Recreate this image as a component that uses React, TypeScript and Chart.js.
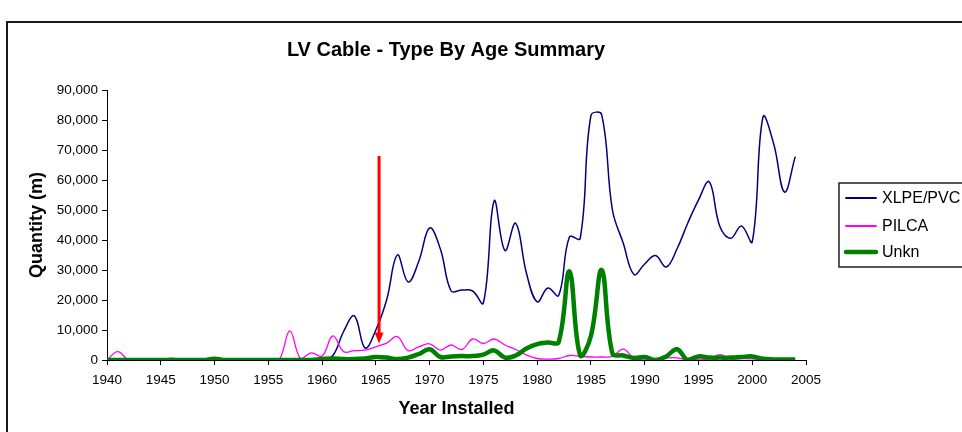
import React, { useEffect, useRef } from "react";
import { Chart, registerables } from "chart.js";

Chart.register(...registerables);

const years = [
  1940, 1941, 1942, 1943, 1944, 1945, 1946, 1947, 1948, 1949,
  1950, 1951, 1952, 1953, 1954, 1955, 1956, 1957, 1958, 1959,
  1960, 1961, 1962, 1963, 1964, 1965, 1966, 1967, 1968, 1969,
  1970, 1971, 1972, 1973, 1974, 1975, 1976, 1977, 1978, 1979,
  1980, 1981, 1982, 1983, 1984, 1985, 1986, 1987, 1988, 1989,
  1990, 1991, 1992, 1993, 1994, 1995, 1996, 1997, 1998, 1999,
  2000, 2001, 2002, 2003, 2004,
];

const xlpePvc = [
  0, 0, 0, 0, 0, 0, 0, 0, 0, 0,
  0, 0, 0, 0, 0, 0, 0, 0, 0, 0,
  0, 1500, 9500, 14700, 4000, 10000, 20000, 35000, 26000, 33000,
  44000, 37000, 23000, 23300, 23000, 19000, 53000, 36500, 45600, 29000,
  19400, 24000, 21500, 41000, 40500, 81500, 81800, 50000, 39000, 28500,
  32000, 34800, 31000, 37000, 45600, 53300, 59400, 44400, 40600, 44700,
  39400, 81000, 72000, 56000, 67800,
];

const pilca = [
  0, 2800, 0, 0, 0, 0, 600, 0, 0, 0,
  0, 0, 0, 0, 0, 0, 0, 9700, 500, 2400,
  1300, 8000, 2800, 3100, 3300, 4400, 5600, 7800, 3100, 4400,
  5400, 3300, 5000, 3500, 7000, 5500, 7000, 5000, 3500, 1700,
  500, 300, 500, 1500, 1200, 1000, 1000, 1200, 3600, 600,
  0, 300, 700, 700, 0, 300, 300, 1800, 300, 500,
  400, 0, 0, 0, 0,
];

const unkn = [
  0, 0, 0, 0, 0, 0, 0, 0, 0, 0,
  400, 0, 0, 0, 0, 0, 0, 0, 0, 0,
  300, 500, 300, 300, 500, 1000, 800, 300, 800, 2000,
  3600, 1000, 1200, 1300, 1300, 1800, 3200, 800, 1500, 3800,
  5300, 5800, 6000, 29500, 1500, 8000, 30000, 2200, 1500, 700,
  1000, 0, 1200, 3600, 0, 1200, 800, 800, 800, 1000,
  1200, 400, 200, 200, 200,
];

const seriesLabels = ["XLPE/PVC", "PILCA", "Unkn"];
const chartTitle = "LV Cable - Type By Age Summary";
const xAxisTitle = "Year Installed";
const yAxisTitle = "Quantity (m)";
const xMin = 1940;
const xMax = 2005;
const xStep = 5;
const yMin = 0;
const yMax = 90000;
const yStep = 10000;

// red annotation arrow (year, from value, to value)
const arrowYear = 1965.3;
const arrowFrom = 68000;
const arrowTo = 5500;

const FONT = 'Arial, "Liberation Sans", sans-serif';

const boxLegend = {
  id: "boxLegend",
  afterDraw(chart: any) {
    const { ctx, chartArea } = chart;
    const left = chartArea.right + 33;
    const top = chartArea.top + 93;
    const w = 150;
    const h = 84;
    const rows = [15, 43, 69];
    ctx.save();
    ctx.fillStyle = "#fff";
    ctx.fillRect(left, top, w, h);
    ctx.strokeStyle = "#222";
    ctx.lineWidth = 1.5;
    ctx.strokeRect(left, top, w, h);
    chart.data.datasets.forEach((ds: any, i: number) => {
      const y = top + rows[i];
      ctx.strokeStyle = ds.borderColor;
      ctx.lineWidth = Math.max(ds.borderWidth, 1.8);
      ctx.lineCap = "round";
      ctx.beginPath();
      ctx.moveTo(left + 7, y);
      ctx.lineTo(left + 37, y);
      ctx.stroke();
      ctx.fillStyle = "#000";
      ctx.font = `16px ${FONT}`;
      ctx.textBaseline = "middle";
      ctx.textAlign = "left";
      ctx.fillText(ds.label, left + 43, y + 1);
    });
    ctx.restore();
  },
};

const arrowPlugin = {
  id: "redArrow",
  afterDatasetsDraw(chart: any) {
    const { ctx } = chart;
    const xs = chart.scales.x;
    const ys = chart.scales.y;
    const x = xs.getPixelForValue(arrowYear);
    const y0 = ys.getPixelForValue(arrowFrom);
    const y1 = ys.getPixelForValue(arrowTo);
    const headLen = 11;
    ctx.save();
    ctx.strokeStyle = "#ff0000";
    ctx.fillStyle = "#ff0000";
    ctx.lineWidth = 3;
    ctx.beginPath();
    ctx.moveTo(x, y0);
    ctx.lineTo(x, y1 - headLen + 1);
    ctx.stroke();
    ctx.beginPath();
    ctx.moveTo(x - 4.5, y1 - headLen);
    ctx.lineTo(x + 4.5, y1 - headLen);
    ctx.lineTo(x, y1);
    ctx.closePath();
    ctx.fill();
    ctx.restore();
  },
};

function toPoints(vals: number[]) {
  return years.map((yr, i) => ({ x: yr, y: vals[i] }));
}

export default function App() {
  const ref = useRef<HTMLCanvasElement | null>(null);

  useEffect(() => {
    if (!ref.current) return;
    Chart.defaults.font.family = FONT;
    Chart.defaults.color = "#000";
    const chart = new Chart(ref.current, {
      type: "line",
      data: {
        datasets: [
          {
            label: seriesLabels[0],
            data: toPoints(xlpePvc),
            borderColor: "#000080",
            backgroundColor: "#000080",
            borderWidth: 1.5,
            pointRadius: 0,
            tension: 0.4,
            order: 2,
          },
          {
            label: seriesLabels[1],
            data: toPoints(pilca),
            borderColor: "#ff00ff",
            backgroundColor: "#ff00ff",
            borderWidth: 1.3,
            pointRadius: 0,
            tension: 0.4,
            order: 1,
          },
          {
            label: seriesLabels[2],
            data: toPoints(unkn),
            borderColor: "#008000",
            backgroundColor: "#008000",
            borderWidth: 4.5,
            pointRadius: 0,
            tension: 0.4,
            order: 0,
          },
        ],
      },
      options: {
        responsive: false,
        animation: false,
        devicePixelRatio: 1,
        layout: { padding: { left: 17, right: 141, top: 0, bottom: 19 } },
        plugins: {
          legend: { display: false },
          tooltip: { enabled: false },
          title: {
            display: true,
            text: chartTitle,
            color: "#000",
            font: { size: 20, weight: "bold", family: FONT },
            padding: { top: 15, bottom: 28 },
          },
        },
        scales: {
          x: {
            type: "linear",
            min: xMin,
            max: xMax,
            ticks: {
              stepSize: xStep,
              color: "#000",
              font: { size: 13.5, family: FONT },
              padding: 7,
              maxRotation: 0,
              autoSkip: false,
              callback: (v: any) => String(v),
            },
            grid: {
              display: true,
              drawOnChartArea: false,
              drawTicks: true,
              tickLength: 5,
              color: "#000",
            },
            border: { display: true, color: "#000", width: 1 },
            title: {
              display: true,
              text: xAxisTitle,
              color: "#000",
              font: { size: 18, weight: "bold", family: FONT },
              padding: { top: 4, bottom: 4 },
            },
            afterFit: (s: any) => {
              s.height = 64;
            },
          },
          y: {
            type: "linear",
            min: yMin,
            max: yMax,
            ticks: {
              stepSize: yStep,
              color: "#000",
              font: { size: 13.5, family: FONT },
              padding: 4,
              callback: (v: any) => Number(v).toLocaleString("en-US"),
            },
            grid: {
              display: true,
              drawOnChartArea: false,
              drawTicks: true,
              tickLength: 5,
              color: "#000",
            },
            border: { display: true, color: "#000", width: 1 },
            title: {
              display: true,
              text: yAxisTitle,
              color: "#000",
              font: { size: 18, weight: "bold", family: FONT },
              padding: { top: 1, bottom: 4 },
            },
            afterFit: (s: any) => {
              s.width = 82;
            },
          },
          yR: {
            type: "linear",
            position: "right",
            display: true,
            ticks: { display: false },
            grid: { display: false, drawTicks: false },
            border: { display: false },
            afterFit: (s: any) => {
              s.width = 61;
            },
          },
        },
      },
      plugins: [arrowPlugin, boxLegend],
    } as any);
    return () => chart.destroy();
  }, []);

  return (
    <div
      style={{
        position: "fixed",
        left: 0,
        top: 0,
        width: 962,
        height: 432,
        overflow: "hidden",
        background: "#fff",
      }}
    >
      <div
        style={{
          position: "absolute",
          left: 6,
          top: 21,
          border: "2px solid #1a1a1a",
          background: "#fff",
          width: 1000,
          height: 420,
        }}
      >
        <canvas
          ref={ref}
          width={1000}
          height={420}
          style={{ display: "block", width: 1000, height: 420 }}
        />
      </div>
    </div>
  );
}
